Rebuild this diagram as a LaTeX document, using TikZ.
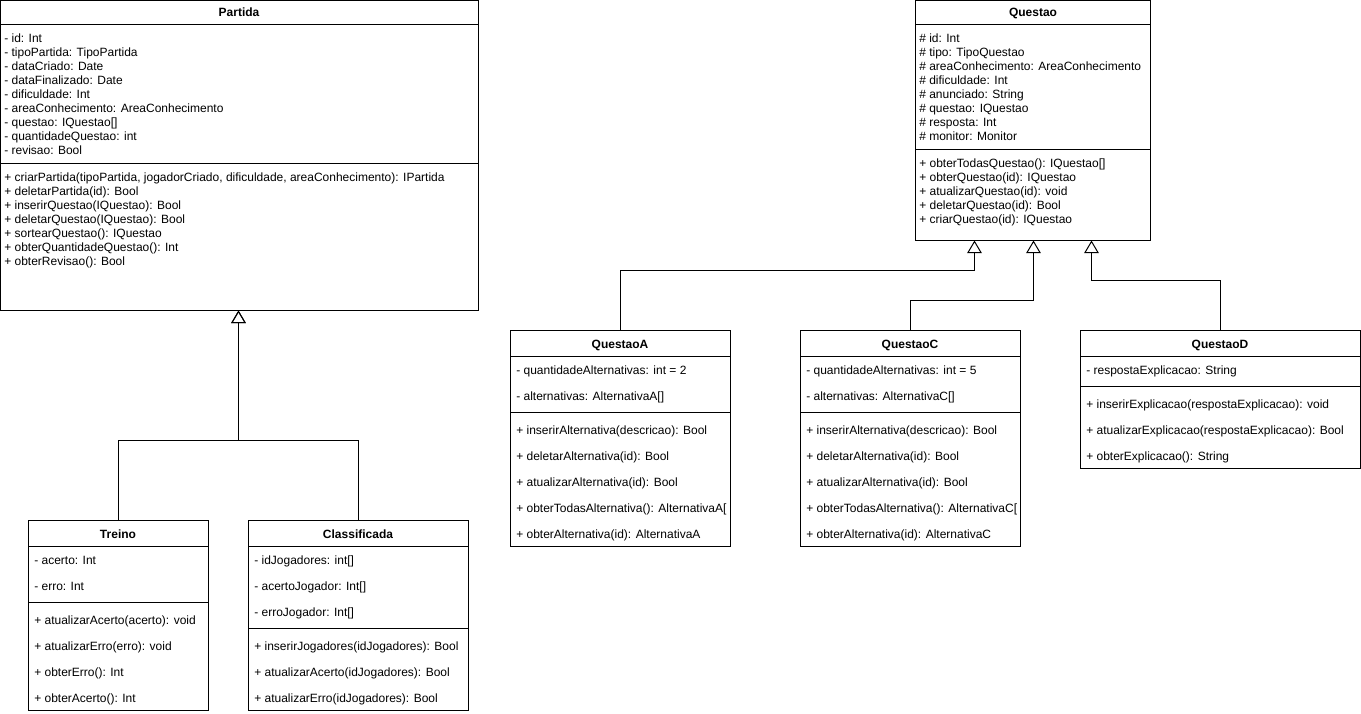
\documentclass[tikz,border=0pt]{standalone}
\usepackage{fontspec}
\setmainfont{Liberation Sans}
\usetikzlibrary{fit,arrows.meta}
\begin{document}
\begin{tikzpicture}[x=0.75pt,y=-0.75pt,
  box/.style={draw, line width=0.75pt, inner sep=0pt},
  sep/.style={line width=0.75pt},
  ttl/.style={anchor=base, inner sep=0pt, font=\fontsize{9}{11}\selectfont\bfseries},
  mem/.style={anchor=base west, inner sep=0pt, font=\fontsize{9}{11}\selectfont},
  inh/.style={line width=0.75pt, -{Triangle[open, length=9.5pt, width=11pt, line width=0.75pt]}}]
\useasboundingbox (0,0) rectangle (1361,714);

% ---------- Partida ----------
\node[box, fit={(0.5,0.5) (478,310)}] (partida) {};
\draw[sep] (partida.west |- 0,24) -- (partida.east |- 0,24);
\draw[sep] (partida.west |- 0,163) -- (partida.east |- 0,163);
\node[ttl] (pt) at (239,16) {Partida};
\foreach \t [count=\i from 0] in {- id: Int, - tipoPartida: TipoPartida, - dataCriado: Date, - dataFinalizado: Date, - dificuldade: Int, - areaConhecimento: AreaConhecimento, - questao: IQuestao[], - quantidadeQuestao: int, - revisao: Bool}
  \node[mem] (pa\i) at (4,42.5+14*\i) {\t};
\node[mem] (pm0) at (4,181.5) {+ criarPartida(tipoPartida, jogadorCriado, dificuldade, areaConhecimento): IPartida};
\foreach \t [count=\i from 1] in {+ deletarPartida(id): Bool, + inserirQuestao(IQuestao): Bool, + deletarQuestao(IQuestao): Bool, + sortearQuestao(): IQuestao, + obterQuantidadeQuestao(): Int, + obterRevisao(): Bool}
  \node[mem] (pm\i) at (4,181.5+14*\i) {\t};

% ---------- Questao ----------
\node[box, fit={(915.5,0.5) (1150.5,240)}] (questao) {};
\draw[sep] (questao.west |- 0,24) -- (questao.east |- 0,24);
\draw[sep] (questao.west |- 0,149) -- (questao.east |- 0,149);
\node[ttl] (qt) at (1033,16) {Questao};
\foreach \t [count=\i from 0] in {\# id: Int, \# tipo: TipoQuestao, \# areaConhecimento: AreaConhecimento, \# dificuldade: Int, \# anunciado: String, \# questao: IQuestao, \# resposta: Int, \# monitor: Monitor}
  \node[mem] (qa\i) at (919,42.5+14*\i) {\t};
\foreach \t [count=\i from 0] in {+ obterTodasQuestao(): IQuestao[], + obterQuestao(id): IQuestao, + atualizarQuestao(id): void, + deletarQuestao(id): Bool, + criarQuestao(id): IQuestao}
  \node[mem] (qm\i) at (919,167.5+14*\i) {\t};

% ---------- QuestaoA ----------
\node[box, fit={(510.5,330.5) (730.5,546.5)}] (qA) {};
\draw[sep] (qA.west |- 0,356) -- (qA.east |- 0,356);
\draw[sep] (qA.west |- 0,412) -- (qA.east |- 0,412);
\node[ttl] (qAt) at (620,348) {QuestaoA};
\node[mem] (qAa0) at (516,374.5) {- quantidadeAlternativas: int = 2};
\node[mem] (qAa1) at (516,400.5) {- alternativas: AlternativaA[]};
\foreach \t [count=\i from 0] in {+ inserirAlternativa(descricao): Bool, + deletarAlternativa(id): Bool, + atualizarAlternativa(id): Bool, + obterTodasAlternativa(): AlternativaA[, + obterAlternativa(id): AlternativaA}
  \node[mem] (qAm\i) at (516,434.5+26*\i) {\t};
\fill[white] (731,490) rectangle (736,530);

% ---------- QuestaoC ----------
\node[box, fit={(800.5,330.5) (1020.5,546.5)}] (qC) {};
\draw[sep] (qC.west |- 0,356) -- (qC.east |- 0,356);
\draw[sep] (qC.west |- 0,412) -- (qC.east |- 0,412);
\node[ttl] (qCt) at (910,348) {QuestaoC};
\node[mem] (qCa0) at (806,374.5) {- quantidadeAlternativas: int = 5};
\node[mem] (qCa1) at (806,400.5) {- alternativas: AlternativaC[]};
\foreach \t [count=\i from 0] in {+ inserirAlternativa(descricao): Bool, + deletarAlternativa(id): Bool, + atualizarAlternativa(id): Bool, + obterTodasAlternativa(): AlternativaC[, + obterAlternativa(id): AlternativaC}
  \node[mem] (qCm\i) at (806,434.5+26*\i) {\t};

% ---------- QuestaoD ----------
\node[box, fit={(1080.5,330.5) (1360.5,468.5)}] (qD) {};
\draw[sep] (qD.west |- 0,356) -- (qD.east |- 0,356);
\draw[sep] (qD.west |- 0,386) -- (qD.east |- 0,386);
\node[ttl] (qDt) at (1220,348) {QuestaoD};
\node[mem] (qDa0) at (1086,374.5) {- respostaExplicacao: String};
\foreach \t [count=\i from 0] in {+ inserirExplicacao(respostaExplicacao): void, + atualizarExplicacao(respostaExplicacao): Bool, + obterExplicacao(): String}
  \node[mem] (qDm\i) at (1086,408.5+26*\i) {\t};

% ---------- Treino ----------
\node[box, fit={(28.5,520.5) (208.5,710.5)}] (treino) {};
\draw[sep] (treino.west |- 0,546) -- (treino.east |- 0,546);
\draw[sep] (treino.west |- 0,602) -- (treino.east |- 0,602);
\node[ttl] (tt) at (118,538) {Treino};
\node[mem] (ta0) at (34,564.5) {- acerto: Int};
\node[mem] (ta1) at (34,590.5) {- erro: Int};
\foreach \t [count=\i from 0] in {+ atualizarAcerto(acerto): void, + atualizarErro(erro): void, + obterErro(): Int, + obterAcerto(): Int}
  \node[mem] (tm\i) at (34,624.5+26*\i) {\t};

% ---------- Classificada ----------
\node[box, fit={(248.5,520.5) (468.5,710.5)}] (classif) {};
\draw[sep] (classif.west |- 0,546) -- (classif.east |- 0,546);
\draw[sep] (classif.west |- 0,628) -- (classif.east |- 0,628);
\node[ttl] (ct) at (358,538) {Classificada};
\foreach \t [count=\i from 0] in {- idJogadores: int[], - acertoJogador: Int[], - erroJogador: Int[]}
  \node[mem] (ca\i) at (254,564.5+26*\i) {\t};
\foreach \t [count=\i from 0] in {+ inserirJogadores(idJogadores): Bool, + atualizarAcerto(idJogadores): Bool, + atualizarErro(idJogadores): Bool}
  \node[mem] (cm\i) at (254,650.5+26*\i) {\t};

% ---------- Inheritance ----------
\coordinate (jP) at (238.5,440.5);
\draw[inh] (treino.north) |- (jP) -- (jP |- partida.south);
\draw[inh] (classif.north) |- (jP) -- (jP |- partida.south);

\coordinate (jA) at (974.5,270.5);
\coordinate (jC) at (1033.5,300.5);
\coordinate (jD) at (1091.5,280.5);
\draw[inh] (qA.north) |- (jA) -- (jA |- questao.south);
\draw[inh] (qC.north) |- (jC) -- (jC |- questao.south);
\draw[inh] (qD.north) |- (jD) -- (jD |- questao.south);
\end{tikzpicture}
\end{document}
